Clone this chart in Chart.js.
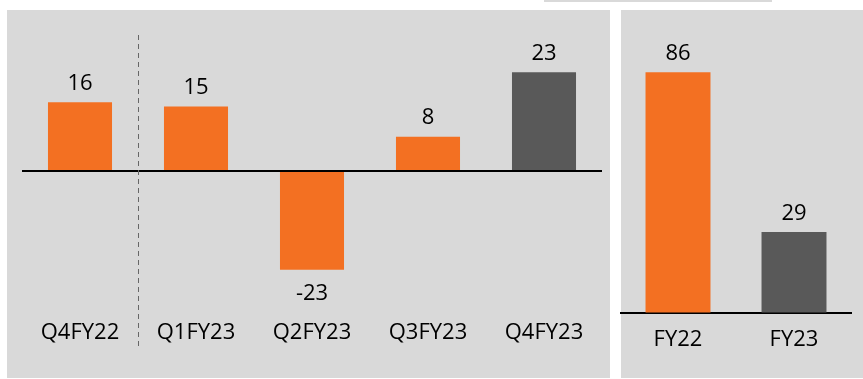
<!DOCTYPE html>
<html>
<head>
<meta charset="utf-8">
<script src="https://cdn.jsdelivr.net/npm/chart.js@4.4.0/dist/chart.umd.min.js"></script>
<style>
  html, body { margin: 0; padding: 0; background: #fff; }
  body { width: 863px; height: 379px; position: relative; overflow: hidden; }
  .panel { position: absolute; background: #d9d9d9; }
  canvas { position: absolute; }
</style>
</head>
<body>
<div class="panel" style="left:544px;top:0;width:228px;height:2px;"></div>
<div class="panel" style="left:7px;top:10px;width:603px;height:368px;"></div>
<div class="panel" style="left:621px;top:10px;width:242px;height:368px;"></div>
<canvas id="grafico_trimestres" width="603" height="368" style="left:7px;top:10px;"></canvas>
<canvas id="grafico_anos" width="243" height="368" style="left:620px;top:10px;"></canvas>
<script>
const trimestres = ['Q4FY22', 'Q1FY23', 'Q2FY23', 'Q3FY23', 'Q4FY23'];
const valoresTrim = [16, 15, -23, 8, 23];
const anos = ['FY22', 'FY23'];
const valoresAnos = [86, 29];

const LARANJA = '#f37022';
const CINZA = '#595959';
const FONTE = { family: "'Open Sans', sans-serif", size: 22 };

// rotulos com o valor acima/abaixo de cada barra
const rotulos = {
  id: 'rotulos',
  afterDatasetsDraw(chart) {
    const ctx = chart.ctx;
    const meta = chart.getDatasetMeta(0);
    const valores = chart.data.datasets[0].data;
    ctx.save();
    ctx.font = `${FONTE.size}px ${FONTE.family}`;
    ctx.fillStyle = '#000000';
    ctx.textAlign = 'center';
    ctx.textBaseline = 'middle';
    meta.data.forEach((barra, i) => {
      const v = valores[i];
      const y = v >= 0 ? barra.y - 18.5 : barra.y + 23.5;
      ctx.fillText(String(v), barra.x, y);
    });
    ctx.restore();
  }
};

// linha tracejada separando Q4FY22 dos trimestres de FY23
const separador = {
  id: 'separador',
  afterDraw(chart) {
    const x = chart.scales.x;
    const area = chart.chartArea;
    const px = (x.getPixelForValue(0) + x.getPixelForValue(1)) / 2;
    const ctx = chart.ctx;
    ctx.save();
    ctx.strokeStyle = '#666666';
    ctx.lineWidth = 1;
    ctx.setLineDash([5, 4]);
    ctx.beginPath();
    ctx.moveTo(Math.round(px) + 0.5, area.top + 25);
    ctx.lineTo(Math.round(px) + 0.5, x.bottom - 5);
    ctx.stroke();
    ctx.restore();
  }
};

function opcoes(min, max, padding, barPct) {
  return {
    responsive: false,
    devicePixelRatio: 1,
    animation: false,
    layout: { padding: padding },
    plugins: { legend: { display: false }, tooltip: { enabled: false } },
    datasets: { bar: { categoryPercentage: 1, barPercentage: barPct } },
    scales: {
      x: {
        grid: { display: false, drawTicks: false },
        border: { display: false },
        ticks: { color: '#000000', font: FONTE, padding: 6, maxRotation: 0 }
      },
      y: {
        min: min,
        max: max,
        afterBuildTicks: s => { s.ticks = [{ value: 0 }]; },
        grid: { drawTicks: false, color: '#000000', lineWidth: 2 },
        border: { display: false },
        ticks: { display: false }
      }
    }
  };
}

new Chart(document.getElementById('grafico_trimestres'), {
  type: 'bar',
  data: {
    labels: trimestres,
    datasets: [{
      data: valoresTrim,
      borderWidth: 0,
      backgroundColor: trimestres.map((t, i) => i === trimestres.length - 1 ? CINZA : LARANJA)
    }]
  },
  options: opcoes(-33.25, 37.5, { left: 15, right: 8, top: 0, bottom: 25.8 }, 0.552),
  plugins: [rotulos, separador]
});

new Chart(document.getElementById('grafico_anos'), {
  type: 'bar',
  data: {
    labels: anos,
    datasets: [{
      data: valoresAnos,
      borderWidth: 0,
      backgroundColor: anos.map((a, i) => i === anos.length - 1 ? CINZA : LARANJA)
    }]
  },
  options: opcoes(-2.5, 108.2, { left: 0, right: 11, top: 0, bottom: 19.2 }, 0.56),
  plugins: [rotulos]
});
</script>
</body>
</html>
